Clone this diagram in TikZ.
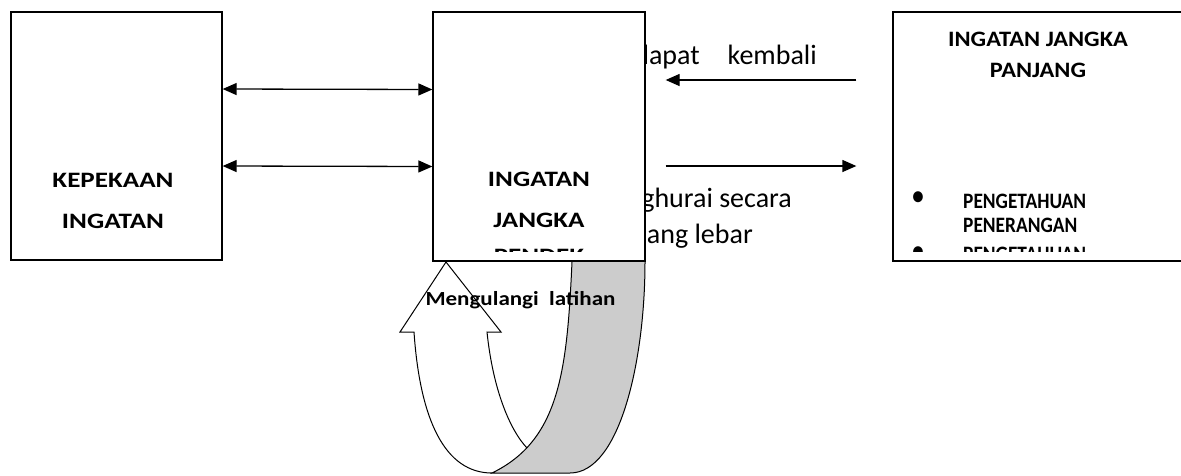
\documentclass[tikz,border=0pt]{standalone}
\usepackage{fontspec}
\setmainfont{Carlito}
\newfontfamily\lebarA{Carlito Bold}[FakeStretch=1.23]
\newfontfamily\lebarB{Carlito Bold}[FakeStretch=1.11]
\newfontfamily\lebarC{Carlito Bold}[FakeStretch=1.15]
\newfontfamily\sempit{Carlito Bold}[FakeStretch=0.88]
\usetikzlibrary{arrows.meta}

\tikzset{
    kotak/.style={draw, line width=1.3pt, fill=white, inner sep=0pt},
    panah/.style={line width=1.3pt, -{Triangle[length=14pt,width=12pt]}},
    dwi/.style={line width=1.3pt, {Triangle[length=14pt,width=12pt]}-{Triangle[length=14pt,width=12pt]}},
    tebal/.style={font=\lebarA\fontsize{22}{41}\selectfont, align=center, anchor=base, inner sep=0pt},
    biasa/.style={font=\fontsize{28}{34}\selectfont, anchor=base east, inner sep=0pt}
}

\begin{document}
\begin{tikzpicture}[x=1pt, y=-1pt]
        \useasboundingbox (0,0) rectangle (1181,475);

        % teks di belakang kotak tengah
        \node[biasa] (dapat) at (817,64) {dapat\hspace{28pt}kembali};
        \node[biasa] (hurai) at (792,207) {ghurai secara};
        \node[biasa] (lebar) at (753,243) {ang lebar};

        % kotak
        \node[kotak, minimum width=211pt, minimum height=248pt] (kepekaan) at (116.5,136) {};
        \node[kotak, minimum width=212pt, minimum height=249pt] (pendek) at (539,136.5) {};
        \node[kotak, minimum width=297pt, minimum height=249pt] (panjang) at (1041.5,136.5) {};

        \node[tebal] (tkepekaan) at (113,228) {KEPEKAAN\\INGATAN};
        \begin{scope}
            \clip (433,12) rectangle (645,251);
            \node[tebal] (tpendek) at (539,263) {INGATAN\\JANGKA\\[-5pt]PENDEK};
        \end{scope}
        \node[tebal, font=\lebarB\fontsize{22}{30.6}\selectfont] (tpanjang) at (1038,77.3) {INGATAN JANGKA\\PANJANG};
        \begin{scope}
            \clip (893,12) rectangle (1181,251);
            \node[tebal, align=left, anchor=base west, font=\sempit\fontsize{22}{24}\selectfont] (jenis1) at (963,232) {PENGETAHUAN\\PENERANGAN};
            \node[tebal, font=\sempit\fontsize{26}{24}\selectfont] (titik1) at (918,204) {•};
            \node[tebal, anchor=base west, font=\sempit\fontsize{22}{24}\selectfont] (jenis2) at (963,261) {PENGETAHUAN};
            \node[tebal, font=\sempit\fontsize{26}{24}\selectfont] (titik2) at (918,259) {•};
        \end{scope}

        % anak panah
        \draw[dwi] ([yshift=47pt]kepekaan.east) -- ([yshift=47pt]pendek.west);
        \draw[dwi] ([yshift=-30pt]kepekaan.east) -- ([yshift=-30pt]pendek.west);
        \draw[panah, shorten >=20pt, shorten <=36pt] ([yshift=56.5pt]panjang.west) -- ([yshift=56.5pt]pendek.east);
        \draw[panah, shorten <=20pt, shorten >=36pt] ([yshift=-29.5pt]pendek.east) -- ([yshift=-29.5pt]panjang.west);

        % anak panah pusing balik
        \filldraw[fill=gray!40, line width=1pt] (572,262) .. controls (567,370) and (560,440) .. (492,473) -- (570,473) .. controls (620,473) and (645,360) .. (645,262);
        \draw[line width=1pt] (492,473) .. controls (445,473) and (420,420) .. (414,332) -- (400,332) -- (446,262) -- (501,332) -- (487,332) .. controls (493,390) and (510,430) .. (527,448);
        \node[tebal, font=\lebarC\fontsize{20}{24}\selectfont] (ulang) at (520.5,305) {Mengulangi\ \ latihan};
\end{tikzpicture}
\end{document}
